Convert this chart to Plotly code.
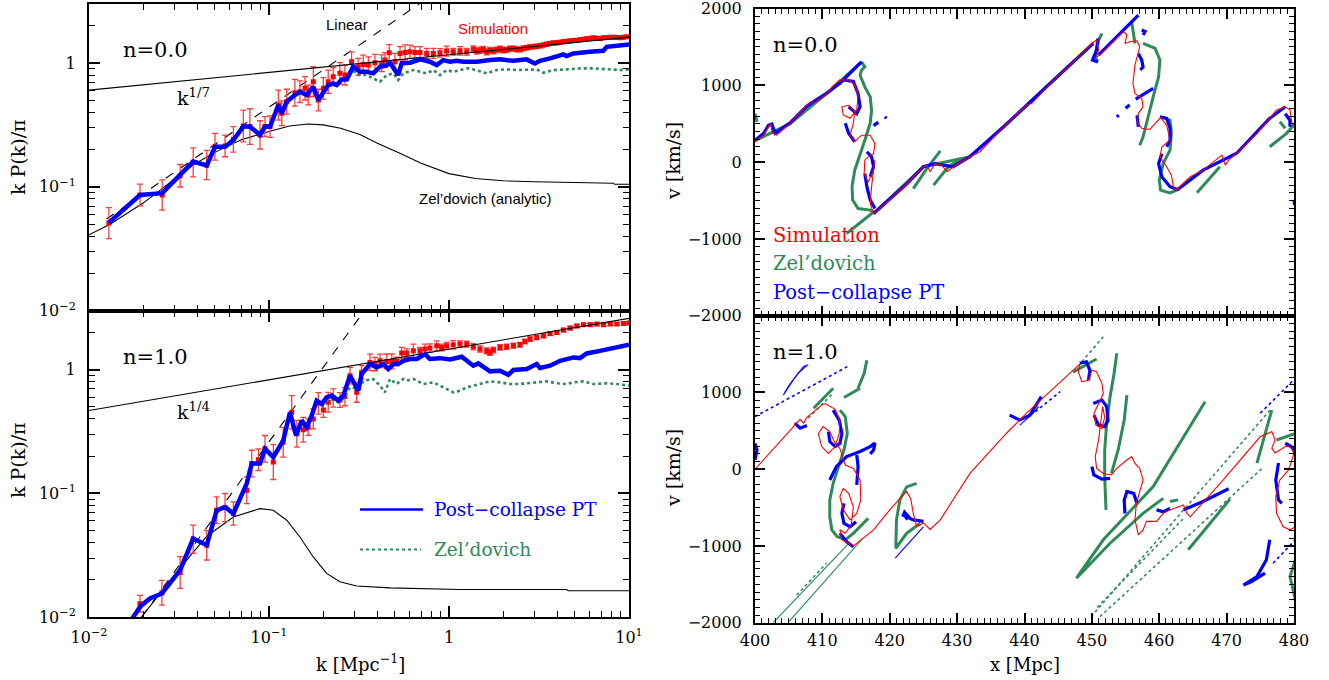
import plotly.graph_objects as go

W, H = 1329, 680
SERIF = "DejaVu Serif"
SANS = "Liberation Sans"
RED = "#ff0000"
ERR_RED = "#ff3c3c"
BLUE = "#0000ff"
GREEN = "#2e8b57"

# ---------------- Left: power spectra, n = 0.0 ----------------
k_sim_n0 = [
    0.0129, 0.0192, 0.0255, 0.0321, 0.0379, 0.0451, 0.0501, 0.0570, 0.0634, 0.0720,
    0.0783, 0.0891, 0.0950, 0.1014, 0.1127, 0.1178, 0.1254, 0.1393, 0.1485, 0.1585,
    0.1652, 0.1762, 0.1880, 0.2005, 0.2133, 0.2275, 0.2476, 0.2642, 0.2876, 0.313,
    0.334, 0.3565, 0.388, 0.4227, 0.4406, 0.4656, 0.501, 0.5346, 0.570, 0.6067,
    0.647, 0.690, 0.7516, 0.8185, 0.891, 0.970, 1.056, 1.151, 1.254, 1.366,
    1.425, 1.488, 1.55, 1.62, 1.69, 1.765, 1.84, 1.92, 2.0, 2.09,
    2.18, 2.28, 2.38, 2.48, 2.59, 2.70, 2.82, 2.95, 3.07, 3.21,
    3.35, 3.50, 3.65, 3.81, 3.97, 4.15, 4.33, 4.52, 4.71, 4.92,
    5.13, 5.36, 5.59, 5.84, 6.09, 6.36, 6.63, 6.93, 7.22, 7.55,
    7.87, 8.22, 8.57, 8.95, 9.33, 9.75]
kp_sim_n0 = [
    0.051, 0.086, 0.086, 0.123, 0.158, 0.150, 0.211, 0.214, 0.242, 0.310,
    0.307, 0.263, 0.307, 0.307, 0.458, 0.393, 0.488, 0.576, 0.587, 0.625,
    0.552, 0.707, 0.503, 0.625, 0.707, 0.776, 0.826, 0.800, 1.025, 0.934,
    0.976, 0.963, 1.006, 0.997, 1.057, 1.21, 1.025, 1.197, 1.22, 1.234,
    1.22, 1.22, 1.197, 1.197, 1.21, 1.25, 1.234, 1.257, 1.234, 1.30,
    1.25, 1.27, 1.29, 1.23, 1.27, 1.25, 1.28, 1.30, 1.27, 1.28,
    1.31, 1.31, 1.29, 1.29, 1.32, 1.33, 1.35, 1.36, 1.37, 1.38,
    1.40, 1.42, 1.44, 1.45, 1.46, 1.47, 1.49, 1.50, 1.51, 1.52,
    1.53, 1.54, 1.56, 1.57, 1.59, 1.60, 1.59, 1.58, 1.60, 1.61,
    1.62, 1.62, 1.61, 1.60, 1.62, 1.63]
err_sim_n0 = [  # half length of the error bars, in dex
    0.125, 0.087, 0.122, 0.091, 0.117, 0.118, 0.108, 0.087, 0.103, 0.128,
    0.144, 0.114, 0.080, 0.087, 0.121, 0.100, 0.100, 0.108, 0.087, 0.094,
    0.080, 0.121, 0.087, 0.087, 0.094, 0.074, 0.087, 0.080, 0.080, 0.067,
    0.074, 0.067, 0.067, 0.067, 0.060, 0.067, 0.067, 0.054, 0.060, 0.054,
    0.047, 0.047, 0.040, 0.040, 0.034, 0.040, 0.027, 0.034, 0.027, 0.025,
    0.025, 0.025, 0.024, 0.024, 0.023, 0.023, 0.022, 0.022, 0.021, 0.021,
    0.020, 0.020, 0.020, 0.019, 0.019, 0.018, 0.018, 0.018, 0.017, 0.017,
    0.016, 0.016, 0.016, 0.015, 0.015, 0.015, 0.014, 0.014, 0.014, 0.013,
    0.013, 0.013, 0.013, 0.012, 0.012, 0.012, 0.012, 0.012, 0.011, 0.011,
    0.011, 0.011, 0.011, 0.010, 0.010, 0.010]

k_pt_n0 = [
    0.0129, 0.0192, 0.0255, 0.0321, 0.0379, 0.0451, 0.0501, 0.0570, 0.0634, 0.0720,
    0.0783, 0.0891, 0.0950, 0.1014, 0.1127, 0.1178, 0.1254, 0.1393, 0.1485, 0.1618,
    0.1762, 0.188, 0.2005, 0.2133, 0.2275, 0.2377, 0.2535, 0.2706, 0.2935, 0.3206,
    0.349, 0.3794, 0.414, 0.451, 0.470, 0.491, 0.522, 0.546, 0.6067, 0.690,
    0.783, 0.855, 0.929, 1.014, 1.104, 1.20, 1.308, 1.425, 1.69, 1.92,
    2.28, 2.70, 3.0, 3.2, 3.64, 4.32, 4.5, 4.91, 6.07, 7.2,
    7.52, 8.91, 10.0]
kp_pt_n0 = [
    0.0515, 0.086, 0.089, 0.125, 0.160, 0.149, 0.211, 0.211, 0.239, 0.307,
    0.307, 0.263, 0.307, 0.307, 0.458, 0.393, 0.488, 0.552, 0.587, 0.552,
    0.644, 0.503, 0.587, 0.665, 0.686, 0.665, 0.738, 0.738, 0.934, 0.851,
    0.851, 0.826, 0.934, 0.963, 1.006, 0.906, 0.80, 0.997, 1.006, 1.071,
    1.025, 0.963, 1.057, 1.025, 1.044, 1.025, 1.025, 1.025, 1.057, 1.071,
    1.044, 1.071, 0.994, 1.044, 1.09, 1.175, 1.14, 1.197, 1.234, 1.257,
    1.354, 1.397, 1.415]

k_zel_n0 = [
    0.2133, 0.2275, 0.2377, 0.2535, 0.2706, 0.2935, 0.307, 0.349, 0.396, 0.414,
    0.451, 0.491, 0.522, 0.557, 0.634, 0.690, 0.7516, 0.8185, 0.891, 0.970,
    1.056, 1.151, 1.254, 1.308, 1.486, 1.62, 1.84, 2.09, 2.38, 2.70,
    3.07, 3.35, 3.81, 4.5, 5.36, 6.36, 7.52, 8.91, 10.0]
kp_zel_n0 = [
    0.665, 0.686, 0.665, 0.738, 0.738, 0.90, 0.80, 0.80, 0.729, 0.707,
    0.80, 0.826, 0.729, 0.826, 0.878, 0.851, 0.826, 0.878, 0.80, 0.878,
    0.851, 0.878, 0.906, 0.906, 0.851, 0.826, 0.878, 0.889, 0.878, 0.878,
    0.889, 0.835, 0.878, 0.889, 0.906, 0.906, 0.889, 0.878, 0.889]

k_za_n0 = [0.01, 0.0131, 0.02, 0.03, 0.0378, 0.05, 0.07, 0.1, 0.13, 0.165, 0.2, 0.25,
           0.32, 0.4, 0.53, 0.7, 1.0, 1.4, 2.0, 3.0, 5.0, 8.2, 8.3, 10.0]
kp_za_n0 = [0.041, 0.05, 0.074, 0.115, 0.150, 0.19, 0.24, 0.28, 0.31, 0.322, 0.317, 0.298,
            0.265, 0.225, 0.188, 0.155, 0.128, 0.117, 0.112, 0.110, 0.108, 0.107, 0.105, 0.105]

k_lin_n0 = [0.0125, 0.70]
kp_lin_n0 = [0.055, 3.08]
k_pow_n0 = [0.01, 10.0]
kp_pow_n0 = [0.605, 1.62]

# ---------------- Left: power spectra, n = 1.0 ----------------
k_sim_n1 = [
    0.0192, 0.0254, 0.0321, 0.0379, 0.0451, 0.0512, 0.057, 0.0634, 0.0752, 0.0802,
    0.0873, 0.095, 0.1057, 0.12, 0.1337, 0.1428, 0.155, 0.1652, 0.1762, 0.188,
    0.2005, 0.2133, 0.2275, 0.2476, 0.2642, 0.2818, 0.307, 0.327, 0.364, 0.388,
    0.414, 0.451, 0.481, 0.511, 0.546, 0.582, 0.634, 0.690, 0.7356, 0.783,
    0.855, 0.91, 0.970, 1.056, 1.151, 1.254, 1.366, 1.486, 1.62, 1.69,
    1.765, 1.92, 2.09, 2.28, 2.48, 2.64, 2.82, 3.07, 3.35, 3.64,
    3.97, 4.33, 4.71, 5.13, 5.59, 6.09, 6.63, 7.22, 7.87, 8.57,
    9.33, 10.0]
kp_sim_n1 = [
    0.0128, 0.0157, 0.0229, 0.0426, 0.0381, 0.0729, 0.0767, 0.0686, 0.1057, 0.174,
    0.187, 0.229, 0.179, 0.259, 0.453, 0.303, 0.327, 0.343, 0.40, 0.535,
    0.473, 0.545, 0.591, 0.569, 0.606, 0.895, 0.656, 0.951, 1.145, 1.11,
    1.18, 1.167, 1.167, 1.167, 1.362, 1.362, 1.422, 1.422, 1.47, 1.496,
    1.562, 1.513, 1.562, 1.59, 1.61, 1.61, 1.532, 1.47, 1.422, 1.38,
    1.442, 1.513, 1.532, 1.562, 1.59, 1.69, 1.767, 1.82, 1.88, 1.96,
    2.0, 2.09, 2.17, 2.26, 2.31, 2.31, 2.34, 2.31, 2.34, 2.34,
    2.36, 2.39]
err_sim_n1 = [
    0.067, 0.100, 0.128, 0.114, 0.120, 0.108, 0.114, 0.094, 0.108, 0.108,
    0.087, 0.108, 0.141, 0.121, 0.134, 0.108, 0.100, 0.067, 0.080, 0.087,
    0.060, 0.080, 0.074, 0.060, 0.074, 0.067, 0.080, 0.054, 0.067, 0.054,
    0.054, 0.060, 0.060, 0.034, 0.047, 0.034, 0.054, 0.027, 0.040, 0.034,
    0.040, 0.027, 0.027, 0.034, 0.027, 0.025, 0.025, 0.025, 0.024, 0.024,
    0.023, 0.022, 0.021, 0.020, 0.019, 0.019, 0.018, 0.017, 0.016, 0.016,
    0.015, 0.014, 0.014, 0.013, 0.013, 0.012, 0.012, 0.011, 0.011, 0.011,
    0.010, 0.010]

k_pt_n1 = [
    0.0172, 0.0194, 0.0218, 0.0254, 0.0321, 0.0379, 0.0451, 0.0512, 0.057, 0.0634,
    0.0752, 0.0802, 0.0891, 0.095, 0.1057, 0.12, 0.1308, 0.1413, 0.152, 0.1618,
    0.1727, 0.184, 0.1963, 0.209, 0.223, 0.2426, 0.2588, 0.2818, 0.3135, 0.327,
    0.364, 0.396, 0.4318, 0.46, 0.491, 0.522, 0.557, 0.6067, 0.662, 0.7356,
    0.783, 0.891, 1.014, 1.177, 1.364, 1.455, 1.69, 1.92, 2.135, 2.28,
    2.70, 3.07, 3.2, 3.64, 4.14, 4.91, 5.34, 5.82, 6.9, 7.87,
    8.91, 10.0]
kp_pt_n1 = [
    0.0095, 0.0123, 0.0141, 0.0155, 0.0239, 0.0431, 0.0381, 0.0729, 0.0776, 0.0686,
    0.120, 0.174, 0.174, 0.229, 0.196, 0.268, 0.453, 0.294, 0.388, 0.343,
    0.426, 0.562, 0.529, 0.598, 0.617, 0.562, 0.617, 0.895, 0.677, 0.923,
    1.11, 1.044, 1.11, 1.012, 1.11, 1.11, 1.18, 1.22, 1.22, 1.337,
    1.22, 1.24, 1.21, 1.273, 1.077, 1.124, 0.97, 0.982, 0.911, 0.994,
    1.012, 1.11, 1.033, 1.077, 1.18, 1.257, 1.242, 1.354, 1.42, 1.468,
    1.53, 1.59]

k_zel_n1 = [
    0.1963, 0.209, 0.223, 0.2426, 0.2588, 0.2818, 0.3135, 0.336, 0.379, 0.414,
    0.4406, 0.47, 0.511, 0.557, 0.582, 0.634, 0.722, 0.8185, 0.891, 0.970,
    1.056, 1.151, 1.254, 1.366, 1.55, 1.69, 1.92, 2.18, 2.48, 2.95,
    3.5, 3.97, 4.5, 4.91, 5.59, 6.36, 7.52, 8.57, 10.0]
kp_zel_n1 = [
    0.51, 0.56, 0.58, 0.545, 0.58, 0.72, 0.70, 0.815, 0.841, 0.743,
    0.656, 0.841, 0.766, 0.841, 0.815, 0.841, 0.766, 0.79, 0.743, 0.698,
    0.656, 0.677, 0.72, 0.743, 0.776, 0.805, 0.79, 0.766, 0.766, 0.79,
    0.805, 0.776, 0.766, 0.79, 0.805, 0.766, 0.776, 0.766, 0.743]

k_za_n1 = [0.0185, 0.0321, 0.0451, 0.0634, 0.0891, 0.1057, 0.1254, 0.1485, 0.1762, 0.209,
           0.2476, 0.307, 0.47, 1.151, 4.5, 4.6, 10.0]
kp_za_n1 = [0.0090, 0.0250, 0.045, 0.0644, 0.0752, 0.073, 0.0606, 0.0444, 0.0306, 0.0225,
            0.0193, 0.0178, 0.0172, 0.0167, 0.0167, 0.0163, 0.0163]

k_lin_n1 = [0.01, 0.35]
kp_lin_n1 = [0.0026, 3.2]
k_pow_n1 = [0.01, 10.0]
kp_pow_n1 = [0.467, 2.6]

# ---------------- Right: phase space, n = 0.0 (x [Mpc], v [km/s]) ----------------
sim_ps_n0 = [[
    (400.0, 265), (401.3, 350), (402.0, 460), (402.3, 495), (402.6, 375), (403.2, 350),
    (405.2, 505), (407.7, 730), (408.2, 785), (408.7, 765), (410.6, 885), (411.4, 975),
    (412.6, 1070), (413.9, 1070), (414.8, 1005), (415.3, 875), (415.1, 680), (414.1, 570),
    (413.1, 615), (412.9, 720), (413.9, 740), (414.8, 655), (414.6, 505), (414.1, 350),
    (414.8, 265), (415.8, 350), (417.1, 350), (417.8, 240), (417.6, 110), (417.0, 80),
    (416.3, 25), (416.2, -150), (416.8, -260), (417.6, -105), (417.8, 25), (417.3, -320),
    (417.1, -540), (417.6, -670), (420.5, -450), (422.5, -285), (425.0, -60), (425.5, -40),
    (426.0, -125), (426.7, -20), (427.7, -40), (428.5, -125), (429.4, -60), (431.9, 70),
    (433.4, 135), (436.9, 460), (440.3, 745), (441.1, 765), (444.8, 1110), (446.8, 1265),
    (450.0, 1545), (450.7, 1590), (451.0, 1460), (450.7, 1370), (451.2, 1395), (454.7, 1700),
    (455.2, 1655), (454.9, 1545), (455.7, 1570), (456.7, 1580), (457.1, 1500), (456.4, 1265),
    (456.1, 1025), (456.4, 895), (457.4, 830), (457.6, 720), (456.9, 635), (456.7, 525),
    (457.4, 440), (458.6, 425), (460.2, 580), (461.1, 480), (461.6, 285), (460.4, 200),
    (460.1, 70), (461.1, -60), (461.8, -170), (462.1, -320), (462.5, -365), (464.6, -190),
    (466.5, -105), (468.5, 35), (469.3, 90), (469.8, -40), (470.3, 25), (471.5, 115),
    (474.5, 375), (476.4, 570), (477.4, 680), (478.7, 720), (479.4, 680), (479.7, 505),
    (480.2, 480)]]

pt_ps_n0 = [
    [(400.0, 285), (401.3, 375), (402.0, 480), (402.5, 495), (403.0, 375), (405.2, 510),
     (407.7, 730), (408.7, 785), (410.6, 895), (412.6, 1025), (415.8, 1305)],
    [(413.1, 1070), (414.6, 1050), (415.3, 890), (415.6, 720), (415.1, 630), (414.4, 675), (413.9, 720)],
    [(413.4, 505), (413.9, 375), (414.8, 265)],
    [(416.6, 135), (417.3, 70), (417.6, -60), (417.1, -190)],
    [(416.3, -150), (416.6, -320), (417.1, -495), (417.8, -605)],
    [(417.6, 475), (418.3, 520)],
    [(419.3, 590), (419.5, 570)],
    [(417.6, -670), (420.5, -450), (422.5, -285), (425.0, -60), (426.7, -20), (429.4, -60),
     (431.9, 70), (436.9, 460), (444.8, 1110), (450.2, 1545)],
    [(450.9, 1610), (450.7, 1460), (450.1, 1330), (450.9, 1305)],
    [(451.0, 1395), (456.9, 1915)],
    [(457.4, 1720), (457.9, 1700), (457.6, 1655)],
    [(456.9, 1415), (457.4, 1330), (457.6, 1240), (457.2, 1200)],
    [(453.7, 590), (454.0, 610)], [(455.0, 700), (455.6, 745)], [(456.5, 820), (459.1, 960)],
    [(456.7, 610), (456.9, 460)],
    [(460.1, 590), (461.1, 570), (461.6, 440), (461.6, 285), (461.1, 200)],
    [(460.4, 110), (459.9, -20), (460.4, -195), (461.6, -320), (462.6, -355)],
    [(462.6, -365), (466.5, -105), (471.5, 115), (476.4, 570), (478.7, 720)],
    [(478.7, 630), (479.4, 545), (479.4, 460)],
    [(480.0, -500), (480.1, -560)]]

zel_ps_n0 = [
    [(400.0, 630), (400.3, 525)],
    [(400.0, 280), (405.2, 500), (410.6, 890), (415.8, 1305)],
    [(415.8, 1305), (416.3, 1240), (415.8, 1195), (415.6, 1130), (416.3, 980), (417.1, 850),
     (417.3, 675), (417.1, 505), (416.3, 285), (415.6, 115), (414.8, -105), (414.4, -320),
     (414.5, -495), (415.3, -605), (417.1, -625), (417.6, -650)],
    [(417.6, -650), (413.6, -930)],
    [(423.5, -345), (425.5, -85), (427.5, 145)],
    [(426.5, -300), (428.7, -60), (430.4, 35)],
    [(417.6, -670), (425.0, -60), (431.9, 70), (436.9, 460), (444.8, 1110), (450.2, 1545)],
    [(451.5, 1675), (451.0, 1590), (450.5, 1395), (450.8, 1305)],
    [(455.9, 1830), (456.2, 1675), (456.4, 1545)],
    [(457.6, 1545), (459.4, 1480), (460.1, 1330), (459.9, 1110), (459.1, 850), (458.4, 590),
     (457.6, 330), (457.1, 220)],
    [(460.4, 590), (461.6, 545), (461.8, 375), (461.6, 155), (460.6, -15), (460.0, -235),
     (460.2, -365), (461.6, -400), (462.6, -365)],
    [(465.6, -400), (469.0, -60)],
    [(476.4, 200), (478.9, 375), (480.2, 505)],
    [(477.9, 525), (478.7, 440)]]

# ---------------- Right: phase space, n = 1.0 ----------------
sim_ps_n1 = [[
    (400.0, 0), (406.2, 590), (406.7, 650), (407.2, 600), (407.7, 675), (409.9, 835),
    (410.4, 855), (411.9, 780), (412.6, 640), (412.5, 465), (411.9, 295), (410.9, 205),
    (409.9, 295), (409.4, 465), (410.1, 555), (411.1, 490), (411.9, 335), (412.6, 270),
    (413.4, 55), (414.6, 10), (415.6, -140), (415.7, -400), (415.1, -575), (414.1, -660),
    (413.1, -530), (412.6, -355), (413.1, -250), (413.9, -315), (414.6, -490), (414.3, -725),
    (413.4, -835), (412.6, -790), (412.9, -920), (414.6, -1000), (417.6, -790), (420.0, -530),
    (422.5, -290), (423.1, -380), (423.5, -575), (424.0, -750), (425.0, -700), (426.0, -785),
    (427.5, -660), (431.9, -55), (437.4, 475), (440.3, 730), (444.3, 1055), (448.2, 1370),
    (448.0, 1270), (448.5, 1140), (449.5, 1160), (450.0, 1290), (450.7, 1270), (451.5, 1115),
    (451.7, 985), (451.0, 855), (450.3, 725), (450.6, 575), (451.5, 530), (451.9, 680),
    (451.6, 815), (451.0, 380), (450.5, 165), (450.7, 10), (451.7, -55), (452.9, -75),
    (453.7, 10), (455.2, 120), (455.9, 165), (456.4, 75), (457.1, 10), (457.6, -140),
    (457.1, -290), (456.6, -445), (456.4, -660), (456.9, -855), (457.6, -790), (458.1, -680),
    (459.6, -680), (460.6, -575), (461.6, -530), (463.6, -465), (464.1, -575), (464.6, -620),
    (469.5, -140), (475.0, 425), (476.2, 470), (476.7, 490), (477.2, 380), (476.7, 275),
    (477.2, 210), (478.7, 295), (479.4, 295), (480.0, 210), (479.2, -10), (477.9, -140),
    (477.3, -355), (477.4, -575), (478.4, -750), (479.4, -790), (480.2, -750)]]

pt_ps_n1_thick = [
    [(400.0, 335), (400.3, 250), (400.0, 120)],
    [(405.9, 600), (406.7, 535), (407.7, 570)],
    [(411.6, 770), (412.5, 640), (412.9, 465), (412.6, 335), (411.9, 295), (411.1, 360), (410.9, 490)],
    [(411.1, -140), (412.1, 35), (413.6, 165), (415.6, 230), (417.1, 295), (417.8, 340),
     (417.6, 250), (417.1, 200)],
    [(415.1, 185), (415.3, 35), (415.1, -205)],
    [(413.2, -445), (412.9, -575), (413.2, -705), (414.1, -750), (415.0, -685)],
    [(412.6, -835), (413.6, -945), (414.6, -1010)],
    [(422.0, -575), (422.5, -640), (422.8, -620), (422.2, -560), (422.0, -600), (423.5, -660), (425.0, -680)],
    [(437.8, 705), (439.3, 640), (440.8, 705), (442.5, 945)],
    [(448.2, 1380), (449.2, 1400), (449.7, 1290), (449.5, 1160)],
    [(450.2, 855), (451.5, 900), (452.2, 815), (452.4, 640), (451.9, 555), (451.0, 575), (450.3, 705)],
    [(450.0, 35), (450.3, -75), (451.5, -130), (452.7, -120)],
    [(454.9, -575), (454.8, -400), (455.2, -290), (456.2, -315), (456.7, -445)],
    [(459.6, -530), (460.6, -555), (461.6, -510)],
    [(463.6, -530), (466.5, -420), (470.3, -255)],
    [(476.4, -920), (475.9, -1180), (474.5, -1400), (472.5, -1510), (473.7, -1465), (475.7, -1355)],
    [(477.7, 80), (477.3, -140), (477.7, -400), (478.2, -445)],
    [(478.7, 340), (479.9, 275), (480.2, 210)]]

pt_ps_n1_thin = [
    [(404.2, 965), (405.7, 1165), (407.2, 1340), (407.9, 1360)],
    [(404.4, 1000), (405.2, 1110), (406.5, 1260), (407.7, 1350)],
    [(420.8, -1160), (425.0, -750)],
    [(439.3, 575), (441.3, 730), (442.1, 815)]]

pt_ps_n1_dots = [
    [(400.0, 685), (414.1, 1355)],
    [(441.6, 750), (445.3, 1010)],
    [(476.9, -1225), (480.2, -920)],
    [(475.0, 730), (480.2, 1185)]]

zel_ps_n1_thick = [
    [(412.6, 770), (413.4, 685), (413.7, 465), (413.2, 250), (412.4, 35), (411.6, -185),
     (411.1, -400), (411.1, -620), (411.4, -790), (412.2, -880), (413.6, -920)],
    [(408.7, 795), (411.6, 1055)],
    [(413.2, 935), (414.6, 1010), (415.6, 1055)],
    [(416.6, 1420), (416.2, 1250), (415.3, 1055)],
    [(416.8, -640), (414.6, -835), (413.4, -920)],
    [(424.0, -185), (422.5, -230), (421.5, -400), (421.0, -660), (420.9, -1030), (422.5, -835), (424.5, -705)],
    [(447.2, 1265), (450.7, 1435)],
    [(453.7, 1510), (453.3, 1250), (452.7, 945), (452.2, 600), (451.9, 250), (451.9, -100), (452.1, -530)],
    [(455.2, 965), (454.8, 640), (453.9, 250), (452.9, -55)],
    [(466.8, 880), (459.1, -225), (451.7, -920), (447.7, -1420), (452.7, -965), (457.6, -575), (460.6, -380)],
    [(461.6, -420), (462.8, -400)],
    [(464.3, -1050), (470.5, -390)],
    [(474.5, 80), (476.7, 770)],
    [(477.4, 380), (480.2, 465)],
    [(480.2, -1180), (479.4, -1400), (480.2, -1700)]]

zel_ps_n1_thin = [
    [(414.0, -960), (402.7, -2000)],
    [(416.0, -900), (404.9, -2000)]]

zel_ps_n1_dots = [
    [(406.2, -1640), (410.6, -1225)],
    [(407.9, 665), (411.6, 990)],
    [(448.5, 1400), (451.9, 1745)],
    [(449.9, -1920), (476.7, 795)],
    [(451.2, -1920), (475.5, 30)],
    [(450.8, -1800), (463.5, -650)]]

# ---------------- figure ----------------
fig = go.Figure()


def fx(px):
    return px / W


def fy(py):
    return 1 - py / H


def log_err(vals, dex):
    up = [v * (10 ** d - 1) for v, d in zip(vals, dex)]
    lo = [v * (1 - 10 ** (-d)) for v, d in zip(vals, dex)]
    return up, lo


def add_line(x, y, xa, ya, color, width, dash=None):
    fig.add_trace(go.Scatter(x=x, y=y, mode="lines", xaxis=xa, yaxis=ya,
                             line=dict(color=color, width=width, dash=dash),
                             hoverinfo="skip", showlegend=False))


def add_segments(segs, xa, ya, color, width, dash=None):
    xs, ys = [], []
    for s in segs:
        for p in s:
            xs.append(p[0])
            ys.append(p[1])
        xs.append(None)
        ys.append(None)
    add_line(xs, ys, xa, ya, color, width, dash)


panels = [
    ("x", "y", k_sim_n0, kp_sim_n0, err_sim_n0, k_pt_n0, kp_pt_n0, k_zel_n0, kp_zel_n0,
     k_za_n0, kp_za_n0, k_lin_n0, kp_lin_n0, k_pow_n0, kp_pow_n0),
    ("x2", "y2", k_sim_n1, kp_sim_n1, err_sim_n1, k_pt_n1, kp_pt_n1, k_zel_n1, kp_zel_n1,
     k_za_n1, kp_za_n1, k_lin_n1, kp_lin_n1, k_pow_n1, kp_pow_n1),
]
for (xa, ya, ks, vs, es, kb, vb, kg, vg, kz, vz, kl, vl, kpw, vpw) in panels:
    add_line(kz, vz, xa, ya, "black", 1.1)
    add_line(kl, vl, xa, ya, "black", 1.1, "dash")
    up, lo = log_err(vs, es)
    fig.add_trace(go.Scatter(x=ks, y=vs, mode="markers", xaxis=xa, yaxis=ya,
                             marker=dict(symbol="square", size=5, color=RED),
                             error_y=dict(type="data", symmetric=False, array=up, arrayminus=lo,
                                          color=ERR_RED, thickness=1.3, width=3),
                             hoverinfo="skip", showlegend=False))
    add_line(kpw, vpw, xa, ya, "black", 1.1)
    add_line(kg, vg, xa, ya, GREEN, 2.6, "dot")
    add_line(kb, vb, xa, ya, BLUE, 4.5)

# phase-space panels (green below blue below red)
add_segments(zel_ps_n0, "x3", "y3", GREEN, 3)
add_segments(pt_ps_n0, "x3", "y3", BLUE, 3.2)
add_segments(sim_ps_n0, "x3", "y3", RED, 1.1)

add_segments(zel_ps_n1_dots, "x4", "y4", GREEN, 1.6, "dot")
add_segments(zel_ps_n1_thin, "x4", "y4", GREEN, 1.1)
add_segments(zel_ps_n1_thick, "x4", "y4", GREEN, 3)
add_segments(pt_ps_n1_dots, "x4", "y4", BLUE, 1.6, "dot")
add_segments(pt_ps_n1_thin, "x4", "y4", BLUE, 1.1)
add_segments(pt_ps_n1_thick, "x4", "y4", BLUE, 3.2)
add_segments(sim_ps_n1, "x4", "y4", RED, 1.1)

# ---------------- axes ----------------
LX = [fx(89), fx(629)]
RX = [fx(755), fx(1294)]
LY_TOP = [fy(310.7), fy(4)]
LY_BOT = [fy(617), fy(310.7)]
RY_TOP = [fy(315.7), fy(8.5)]
RY_BOT = [fy(622.7), fy(315.7)]

tickfont = dict(family=SERIF, size=16, color="black")
log_minor = [m * 10 ** e for e in (-2, -1, 0) for m in range(2, 10)]


def base(**kw):
    d = dict(showline=True, linecolor="black", linewidth=2, mirror="allticks",
             ticks="inside", tickcolor="black", tickwidth=1.5, showgrid=False,
             zeroline=False, tickfont=tickfont, fixedrange=True, automargin=False,
             ticklabeloverflow="allow")
    d.update(kw)
    return d


def log_x(dom, anchor, labels):
    return base(type="log", range=[-2, 1], domain=dom, anchor=anchor, ticklen=11,
                tickmode="array", tickvals=[0.01, 0.1, 1, 10],
                ticktext=["10<sup>\u22122</sup>", "10<sup>\u22121</sup>", "1", "10<sup>1</sup>"],
                showticklabels=labels, ticklabelstandoff=5,
                minor=dict(ticks="inside", ticklen=6, tickwidth=1.2, tickcolor="black",
                           tickmode="array", tickvals=log_minor, showgrid=False))


def log_y(dom, anchor):
    return base(type="log", range=[-2, 0.4771], domain=dom, anchor=anchor, ticklen=11,
                tickmode="array", tickvals=[0.01, 0.1, 1],
                ticktext=["10<sup>\u22122</sup>", "10<sup>\u22121</sup>", "1"],
                ticklabelstandoff=8,
                minor=dict(ticks="inside", ticklen=6, tickwidth=1.2, tickcolor="black",
                           tickmode="array", tickvals=log_minor, showgrid=False))


def lin_x(dom, anchor, labels):
    return base(range=[400, 480], domain=dom, anchor=anchor, ticklen=10, dtick=10,
                tick0=400, showticklabels=labels, ticklabelstandoff=2,
                minor=dict(ticks="inside", ticklen=5, tickwidth=1.2, tickcolor="black",
                           dtick=1, showgrid=False))


def lin_y(dom, anchor, labels):
    return base(range=[-2000, 2000], domain=dom, anchor=anchor, ticklen=10,
                tickmode="array", tickvals=[-2000, -1000, 0, 1000, 2000],
                ticktext=labels, ticklabelstandoff=8,
                minor=dict(ticks="inside", ticklen=5, tickwidth=1.2, tickcolor="black",
                           dtick=100, showgrid=False))


fig.update_layout(
    width=W, height=H, margin=dict(l=0, r=0, t=0, b=0, autoexpand=False),
    paper_bgcolor="white", plot_bgcolor="white", showlegend=False,
    xaxis=log_x(LX, "y", False), yaxis=log_y(LY_TOP, "x"),
    xaxis2=log_x(LX, "y2", True), yaxis2=log_y(LY_BOT, "x2"),
    xaxis3=lin_x(RX, "y3", False),
    yaxis3=lin_y(RY_TOP, "x3", ["\u22122000", "\u22121000", "0", "1000", "2000"]),
    xaxis4=lin_x(RX, "y4", True),
    yaxis4=lin_y(RY_BOT, "x4", ["\u22122000", "\u22121000", "0", "1000", ""]),
)


def text(px, py, s, size, color="black", family=SERIF, xanchor="left", angle=0):
    fig.add_annotation(x=fx(px), y=fy(py), xref="paper", yref="paper", text=s,
                       showarrow=False, xanchor=xanchor, yanchor="middle", textangle=angle,
                       font=dict(family=family, size=size, color=color))


# left panel texts
text(121, 50, "n=0.0", 21)
text(121, 357, "n=1.0", 21)
text(175, 97, "k<sup>1/7</sup>", 19)
text(175, 411, "k<sup>1/4</sup>", 19)
text(324, 25, "Linear", 15, family=SANS)
text(456, 29, "Simulation", 15, color=RED, family=SANS)
text(417, 198, "Zel\u2019dovich (analytic)", 15, family=SANS)
text(18, 157, "k P(k)/\u03c0", 19, xanchor="center", angle=-90)
text(18, 460, "k P(k)/\u03c0", 19, xanchor="center", angle=-90)
text(360, 663, "k [Mpc<sup>\u22121</sup>]", 18, xanchor="center")

# left legend
fig.add_shape(type="line", xref="paper", yref="paper", x0=fx(360), x1=fx(423),
              y0=fy(509.5), y1=fy(509.5), line=dict(color=BLUE, width=2.5))
fig.add_shape(type="line", xref="paper", yref="paper", x0=fx(360), x1=fx(421),
              y0=fy(549.5), y1=fy(549.5), line=dict(color=GREEN, width=2, dash="dot"))
text(432, 509, "Post\u2212collapse PT", 18.5, color=BLUE)
text(432, 549, "Zel\u2019dovich", 18.5, color=GREEN)

# right panel texts
text(771, 45, "n=0.0", 21)
text(771, 352, "n=1.0", 21)
text(771, 235, "Simulation", 19.5, color=RED)
text(771, 263, "Zel\u2019dovich", 19.5, color=GREEN)
text(771, 292, "Post\u2212collapse PT", 19.5, color=BLUE)
text(673, 161, "v [km/s]", 19, xanchor="center", angle=-90)
text(673, 468, "v [km/s]", 19, xanchor="center", angle=-90)
text(1025, 664, "x [Mpc]", 18, xanchor="center")

# the page body has a default 8 px margin: remove it so the figure fills the window
fig.write_html("out.html", config={"displayModeBar": False},
               post_script="document.body.style.margin='0';document.body.style.overflow='hidden';")
